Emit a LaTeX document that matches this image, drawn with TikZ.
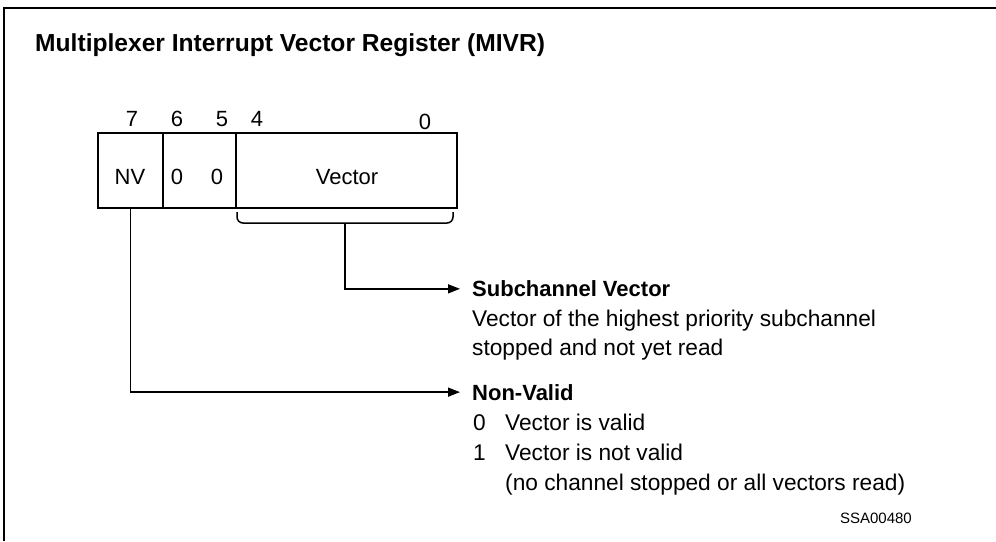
\documentclass[tikz,border=0pt]{standalone}
\usepackage{fontspec}
\setmainfont{Liberation Sans}
\usetikzlibrary{arrows.meta}
\begin{document}
\begin{tikzpicture}[x=1pt,y=-1pt,
  lbl/.style={inner sep=0pt, font=\fontsize{22}{26}\selectfont},
  cell/.style={draw, line width=1.5pt, minimum height=75pt, inner sep=0pt, outer sep=0pt, anchor=north west},
  head/.style={font=\bfseries\fontsize{22}{26}\selectfont, inner ysep=0pt, inner xsep=12pt, anchor=base west},
  body/.style={font=\fontsize{22.7}{29}\selectfont, inner sep=0pt, anchor=base west},
  conn/.style={line width=1.5pt, -{Triangle[length=12pt,width=9pt]}},
  frame/.style={line width=2pt},
  bracket/.style={line width=1.5pt, rounded corners=6pt}]
\useasboundingbox (0,0) rectangle (996,541);
% frame (only top and left edges visible)
\draw[frame] (3.5,541) -- (3.5,7.5) -- (996,7.5);
% title
\node[font=\bfseries\fontsize{24.6}{28}\selectfont, anchor=base west, inner sep=0pt] (title) at (35,51.7) {Multiplexer Interrupt Vector Register (MIVR)};
% register cells
\node[cell, minimum width=65pt] (nv) at (98,133) {};
\node[cell, minimum width=73pt] (zz) at (163,133) {};
\node[cell, minimum width=221pt] (vec) at (236,133) {};
% cell texts
\node[lbl, anchor=base] (nvt) at (130,184) {NV};
\node[lbl, anchor=base] (z6) at (177,184) {0};
\node[lbl, anchor=base] (z5) at (217,184) {0};
\node[lbl, anchor=base] (vect) at (347,184) {Vector};
% bit numbers
\node[lbl, anchor=base] (b7) at (132,126) {7};
\node[lbl, anchor=base] (b6) at (177,126) {6};
\node[lbl, anchor=base] (b5) at (222,126) {5};
\node[lbl, anchor=base] (b4) at (257,126) {4};
\node[lbl, anchor=base] (b0) at (425,129) {0};
% bracket under vector field
\draw[bracket] (237,212) -- (237,223) -- (453,223) -- (453,212);
\coordinate (bt) at (345,223);
% descriptions
\node[head] (sub) at (460,296.7) {Subchannel Vector};
\node[body] (subl1) at (472,326.7) {Vector of the highest priority subchannel};
\node[body] (subl2) at (472,355.7) {stopped and not yet read};
\node[head] (nvh) at (460,400) {Non-Valid};
\node[body] (d0) at (473,430) {0};
\node[body] (v0) at (505,430) {Vector is valid};
\node[body] (d1) at (473,460) {1};
\node[body] (v1) at (505,460) {Vector is not valid};
\node[body] (v1b) at (505,490) {(no channel stopped or all vectors read)};
\node[font=\fontsize{15}{18}\selectfont, anchor=base east, inner sep=0pt] (id) at (912,523) {SSA00480};
% connectors
\draw[conn] (bt) |- (sub.west);
\draw[conn] (nv.south) |- (nvh.west);
\end{tikzpicture}
\end{document}
